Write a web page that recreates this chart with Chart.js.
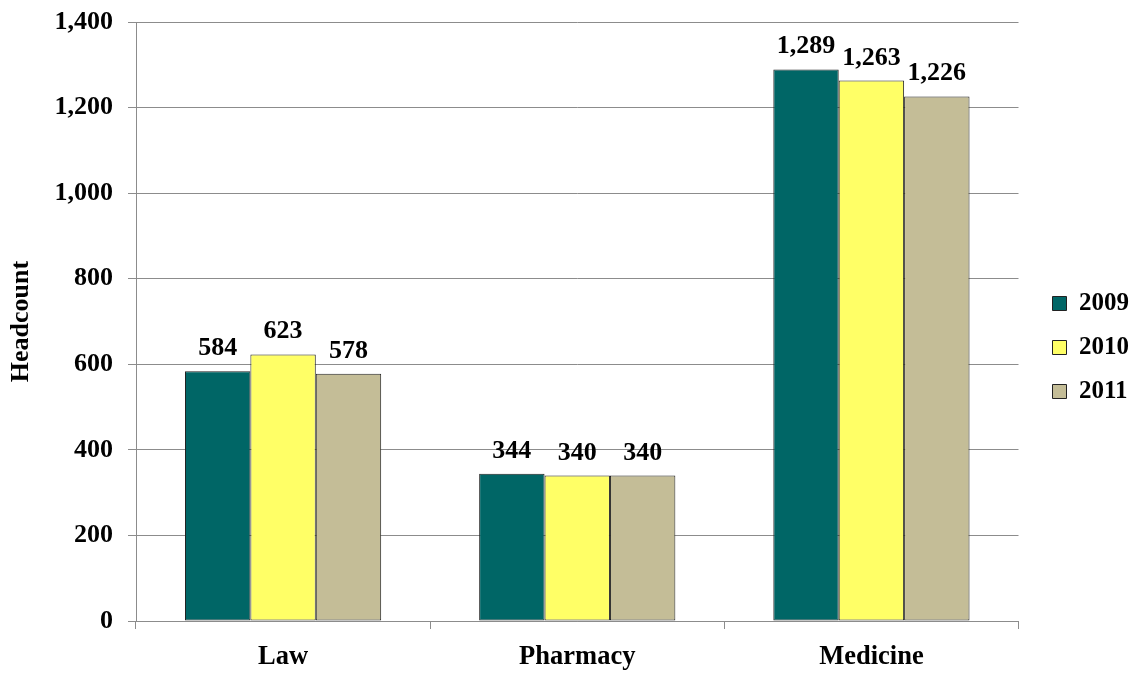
<!DOCTYPE html>
<html>
<head>
<meta charset="utf-8">
<script src="https://cdn.jsdelivr.net/npm/chart.js@4"></script>
<style>
  html, body { margin: 0; padding: 0; background: #fff; }
  #wrap { width: 1134px; height: 673px; }
</style>
</head>
<body>
<div id="wrap"><canvas id="c" width="1134" height="673"></canvas></div>
<script>
const categories = ['Law', 'Pharmacy', 'Medicine'];
const seriesNames = ['2009', '2010', '2011'];
const values2009 = [584, 344, 1289];
const values2010 = [623, 340, 1263];
const values2011 = [578, 340, 1226];
const seriesColors = ['#006666', '#FFFF66', '#C4BD97'];
const yTicks = [0, 200, 400, 600, 800, 1000, 1200, 1400];

const FONT = "'Liberation Serif', 'Times New Roman', serif";

const dataLabels = {
  id: 'dataLabels',
  afterDatasetsDraw(chart) {
    const ctx = chart.ctx;
    ctx.save();
    ctx.font = "bold 26px " + FONT;
    ctx.fillStyle = '#000';
    ctx.textAlign = 'center';
    ctx.textBaseline = 'alphabetic';
    chart.data.datasets.forEach((ds, di) => {
      const meta = chart.getDatasetMeta(di);
      meta.data.forEach((bar, i) => {
        ctx.fillText(ds.data[i].toLocaleString('en-US'), bar.x, bar.y - 16);
      });
    });
    ctx.restore();
  }
};

const legendShift = {
  id: 'legendShift',
  afterInit(chart) {
    const lg = chart.legend;
    if (!lg) return;
    const orig = lg.fit.bind(lg);
    lg.fit = function () { orig(); this.width -= 5; };
  }
};

const allValues = [values2009, values2010, values2011];

new Chart(document.getElementById('c'), {
  type: 'bar',
  data: {
    labels: categories,
    datasets: seriesNames.map((n, i) => ({
      label: n,
      data: allValues[i],
      backgroundColor: seriesColors[i],
      borderColor: '#222',
      borderWidth: 1,
      borderSkipped: false,
      categoryPercentage: 0.667,
      barPercentage: 1.0
    }))
  },
  options: {
    responsive: false,
    animation: false,
    layout: { padding: { top: 22, right: 0, bottom: 0, left: 0 } },
    plugins: {
      tooltip: { enabled: false },
      legend: {
        position: 'right',
        labels: {
          boxWidth: 14,
          boxHeight: 14,
          padding: 19,
          color: '#000',
          font: { family: FONT, size: 25, weight: 'bold' }
        }
      }
    },
    scales: {
      x: {
        offset: true,
        grid: {
          offset: true,
          drawOnChartArea: false,
          drawTicks: true,
          tickLength: 8,
          color: '#8c8c8c'
        },
        border: { color: '#8c8c8c' },
        ticks: {
          color: '#000',
          padding: 12,
          font: { family: FONT, size: 26.5, weight: 'bold' }
        },
        afterFit(s) { s.height = 52; }
      },
      y: {
        min: 0,
        max: 1400,
        afterBuildTicks(s) { s.ticks = yTicks.map(v => ({ value: v })); },
        grid: { color: '#8c8c8c', tickLength: 8 },
        border: { color: '#8c8c8c' },
        ticks: {
          color: '#000',
          padding: 15,
          font: { family: FONT, size: 26, weight: 'bold' },
          callback: v => v.toLocaleString('en-US')
        },
        title: {
          display: true,
          text: 'Headcount',
          color: '#000',
          padding: { top: 6, bottom: 0 },
          font: { family: FONT, size: 26, weight: 'bold' }
        },
        afterFit(s) { s.width = 136; s.paddingTop = 0; s.paddingBottom = 0; }
      },
      yRight: {
        position: 'right',
        display: true,
        min: 0,
        max: 1400,
        grid: { display: false, drawTicks: false },
        border: { display: false },
        ticks: { display: false },
        afterFit(s) { s.width = 15; s.paddingTop = 0; s.paddingBottom = 0; }
      }
    }
  },
  plugins: [dataLabels, legendShift]
});
</script>
</body>
</html>
